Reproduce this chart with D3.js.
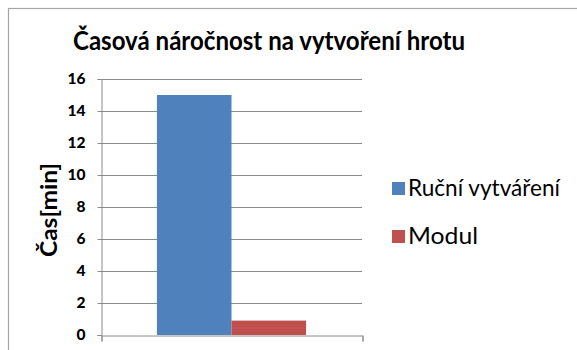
<!DOCTYPE html>
<html>
<head>
<meta charset="utf-8">
<script src="https://cdn.jsdelivr.net/npm/d3@7"></script>
<style>
  html, body { margin: 0; padding: 0; background: #fff; }
  svg { display: block; }
  text { font-family: Lato, "Open Sans", sans-serif; fill: #000; }
</style>
</head>
<body>
<svg id="chart" width="577" height="350"></svg>
<script>
// Chart data
const categories = ["Hrot"];
const seriesNames = ["Ruční vytváření", "Modul"];
const seriesValues = [[15], [0.9]];
const seriesColors = ["#4F81BD", "#C0504D"];
const yTicks = [0, 2, 4, 6, 8, 10, 12, 14, 16];
const titleText = "Časová náročnost na vytvoření hrotu";
const yTitleText = "Čas[min]";

const svg = d3.select("#chart");

// Outer chart frame (continues past the right and bottom edges)
svg.append("rect")
  .attr("x", 8.5).attr("y", 8.5)
  .attr("width", 640).attr("height", 420)
  .attr("fill", "#fff")
  .attr("stroke", "#a6a6a6")
  .attr("stroke-width", 1.2);

const plot = { left: 101, right: 362, top: 79, bottom: 335 };

const y = d3.scaleLinear().domain([0, 16]).range([plot.bottom, plot.top]);
const x0 = d3.scaleBand().domain(categories)
  .range([plot.left, plot.right]).paddingInner(0).paddingOuter(0.375);
const x1 = d3.scaleBand().domain(seriesNames)
  .range([0, x0.bandwidth()]).padding(0);

// Helper: squeeze a text run horizontally to a given width (narrow face look)
function squeeze(sel, target) {
  sel.attr("textLength", target).attr("lengthAdjust", "spacingAndGlyphs");
}

// Gridlines
svg.append("g")
  .selectAll("line")
  .data(yTicks.filter(d => d > 0))
  .join("line")
  .attr("x1", plot.left).attr("x2", plot.right)
  .attr("y1", d => Math.round(y(d)) + 0.5).attr("y2", d => Math.round(y(d)) + 0.5)
  .attr("stroke", "#8c8c8c").attr("stroke-width", 1);

// Bars
const groups = svg.append("g").selectAll("g")
  .data(categories)
  .join("g")
  .attr("transform", d => `translate(${x0(d)},0)`);

groups.selectAll("rect")
  .data((d, ci) => seriesNames.map((s, si) => ({ s, si, v: seriesValues[si][ci] })))
  .join("rect")
  .attr("x", d => x1(d.s))
  .attr("width", x1.bandwidth())
  .attr("y", d => y(d.v))
  .attr("height", d => y(0) - y(d.v))
  .attr("fill", d => seriesColors[d.si]);

// Y axis
const yAxis = d3.axisLeft(y).tickValues(yTicks).tickSize(4).tickPadding(12).tickFormat(d3.format("d"));
const gy = svg.append("g")
  .attr("transform", `translate(${plot.left + 0.5},0)`)
  .call(yAxis);
gy.select(".domain").attr("stroke", "#8c8c8c");
gy.selectAll(".tick line").attr("stroke", "#8c8c8c");
gy.selectAll(".tick text")
  .attr("font-family", "Lato, sans-serif")
  .attr("font-weight", "900")
  .attr("font-size", 15.5)
  .attr("fill", "#000");

// X axis (baseline with category boundary ticks)
const xAxis = d3.axisBottom(d3.scaleLinear().domain([0, 1]).range([plot.left, plot.right]))
  .tickValues([0, 1]).tickSize(6).tickFormat("");
const gx = svg.append("g")
  .attr("transform", `translate(0.5,${plot.bottom + 0.5})`)
  .call(xAxis);
gx.select(".domain").attr("stroke", "#8c8c8c");
gx.selectAll(".tick line").attr("stroke", "#8c8c8c");

// Title
const title = svg.append("text")
  .attr("x", 73).attr("y", 50)
  .attr("font-weight", "bold")
  .attr("font-size", 27.5)
  .text(titleText);
squeeze(title, 392);

// Y axis title
const yTitle = svg.append("text")
  .attr("transform", "translate(57,257) rotate(-90)")
  .attr("font-weight", "bold")
  .attr("font-size", 22.5)
  .text(yTitleText);
squeeze(yTitle, 94);

// Legend
const legendWidths = [152, 70];
const legend = svg.append("g").selectAll("g")
  .data(seriesNames)
  .join("g")
  .attr("transform", (d, i) => `translate(392,${182 + i * 48})`);
legend.append("rect")
  .attr("width", 13).attr("height", 13)
  .attr("fill", (d, i) => seriesColors[i]);
legend.append("text")
  .attr("x", 16).attr("y", 14)
  .attr("font-size", 22.5)
  .attr("textLength", (d, i) => legendWidths[i])
  .attr("lengthAdjust", "spacingAndGlyphs")
  .text(d => d);
</script>
</body>
</html>
